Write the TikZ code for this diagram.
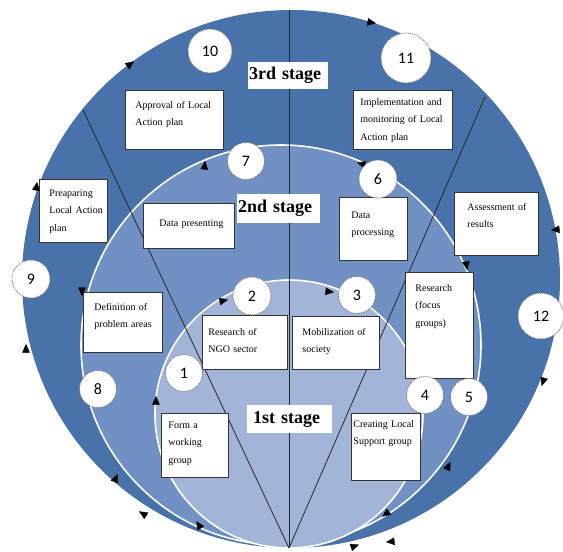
\documentclass[tikz,border=0pt]{standalone}
\usepackage{fontspec}
\setmainfont{Liberation Serif}
\newfontfamily\numfont{Carlito}
\usetikzlibrary{arrows.meta}

\definecolor{ringdark}{HTML}{4872A9}
\definecolor{ringmid}{HTML}{7191C5}
\definecolor{ringlight}{HTML}{A2B4D8}

\tikzset{
  box/.style={draw=black!80, fill=white, line width=0.9pt, anchor=north west,
    align=left, inner ysep=0pt, font=\fontsize{10}{17.5}\selectfont},
  num/.style={circle, fill=white, draw=black!55, densely dotted, line width=0.9pt,
    inner sep=0pt, font=\numfont\fontsize{16}{16}\selectfont},
  stagebox/.style={fill=white, anchor=north west, align=left, inner ysep=0pt,
    font=\bfseries\fontsize{18}{18}\selectfont},
  tip/.style={-{Triangle[length=8.5pt,width=7.5pt]}, line width=0.4pt},
  sector/.style={draw=black!85, line width=0.8pt},
}

\begin{document}
\begin{tikzpicture}[x=1pt,y=-1pt]
  \useasboundingbox (0,0) rectangle (563,552);
  % rings
  \fill[ringdark] (291,279) circle (269);
  \filldraw[fill=ringmid, draw=white, line width=1.6pt] (281,345) circle (200);
  \filldraw[fill=ringlight, draw=white, line width=1.6pt] (289,414) circle (134);
  % sector lines
  \coordinate (base) at (289,548);
  \coordinate (topmid) at (289,10);
  \coordinate (topleft) at (83,110);
  \coordinate (topright) at (485,97);
  \draw[sector] (topmid) -- (base);
  \draw[sector] (topleft) -- (base);
  \draw[sector] (topright) -- (base);
  % boxes
  \node[box, text width=78pt, inner xsep=10pt, text height=18pt, text depth=41pt] (approval) at (125,90) {Approval of Local\\Action plan};
  \node[box, text width=48pt, inner xsep=10pt, text height=17pt, text depth=46pt] (preparing) at (39,179) {Preaparing\\\mbox{Local Action}\\plan};
  \node[box, text width=59pt, inner xsep=16pt, text height=23pt, text depth=22pt] (presenting) at (143,203) {\mbox{Data presenting}};
  \node[box, text width=85pt, inner xsep=7pt, text height=15pt, text depth=44pt] (implement) at (353,90) {Implementation and\\monitoring of Local\\Action plan};
  \node[box, text width=44pt, inner xsep=12pt, text height=21pt, text depth=42pt] (processing) at (339,197) {Data\\\mbox{processing}};
  \node[box, text width=58pt, inner xsep=13pt, text height=18pt, text depth=45pt] (assessment) at (454,192) {\mbox{Assessment of}\\results};
  \node[box, text width=48pt, inner xsep=10pt, text height=19pt, text depth=87pt] (focus) at (405,272) {Research\\(focus\\groups)};
  \node[box, text width=57pt, inner xsep=11pt, text height=18pt, text depth=42pt] (problems) at (83,292) {\mbox{Definition of}\\\mbox{problem areas}};
  \node[box, text width=73pt, inner xsep=6pt, text height=20pt, text depth=34pt] (ngo) at (202,315) {Research of\\NGO sector};
  \node[box, text width=67pt, inner xsep=10pt, text height=19pt, text depth=34pt] (mobilize) at (292,316) {\mbox{Mobilization of}\\society};
  \node[box, text width=53pt, inner xsep=7pt, text height=15pt, text depth=49pt] (working) at (161,413) {Form a\\working\\group};
  \node[box, text width=65pt, inner xsep=2pt, text height=14pt, text depth=53pt] (support) at (351,413) {\mbox{Creating Local}\\\mbox{Support group}};
  % direction marks
  \draw[tip] (133,62) -- ++(1,-0.75);
  \draw[tip] (375,23) -- ++(1,0.15);
  \draw[tip] (552,230) -- ++(-1,0.1);
  \draw[tip] (542,385) -- ++(-0.3,1);
  \draw[tip] (387,542) -- ++(-1,0.1);
  \draw[tip] (358,545) -- ++(1,-0.35);
  \draw[tip] (140,512) -- ++(-1,-0.6);
  \draw[tip] (26,345) -- ++(0,-1);
  \draw[tip] (37,183) -- ++(0.15,-1);
  \draw[tip] (205,162) -- ++(0.1,-1);
  \draw[tip] (358,163) -- ++(-1,-0.25);
  \draw[tip] (467,269) -- ++(0.15,1);
  \draw[tip] (450,463) -- ++(0.5,-1);
  \draw[tip] (383,516) -- ++(-0.8,0.6);
  \draw[tip] (117,475) -- ++(0.4,-1);
  \draw[tip] (197,522) -- ++(-0.6,-1);
  \draw[tip] (82,295) -- ++(0,1);
  \draw[tip] (156,397) -- ++(0,-1);
  \draw[tip] (227,300) -- ++(1,-0.2);
  \draw[tip] (333,292) -- ++(1,0.1);
  % step numbers
  \node[num, minimum size=37pt] (n1) at (184,373) {1};
  \node[num, minimum size=38pt] (n2) at (252,296) {2};
  \node[num, minimum size=37pt] (n3) at (357,295) {3};
  \node[num, minimum size=37pt] (n4) at (425,395) {4};
  \node[num, minimum size=37pt] (n5) at (469,397) {5};
  \node[num, minimum size=38pt] (n6) at (378,179) {6};
  \node[num, minimum size=37pt] (n7) at (246,161) {7};
  \node[num, minimum size=37pt] (n8) at (98,389) {8};
  \node[num, minimum size=38pt] (n9) at (31,279) {9};
  \node[num, minimum size=44pt] (n10) at (210,51) {10};
  \node[num, minimum size=50pt] (n11) at (406,58) {11};
  \node[num, minimum size=46pt] (n12) at (541,316) {12};
  % stage labels
  \node[stagebox, text width=78pt, inner xsep=1pt, minimum height=27pt] (stage3) at (248,62) {3rd stage};
  \node[stagebox, text width=81pt, inner xsep=1pt, minimum height=29pt] (stage2) at (237,194) {2nd stage};
  \node[stagebox, text width=73pt, inner xsep=6pt, minimum height=28pt] (stage1) at (247,405) {1st stage};
\end{tikzpicture}
\end{document}
